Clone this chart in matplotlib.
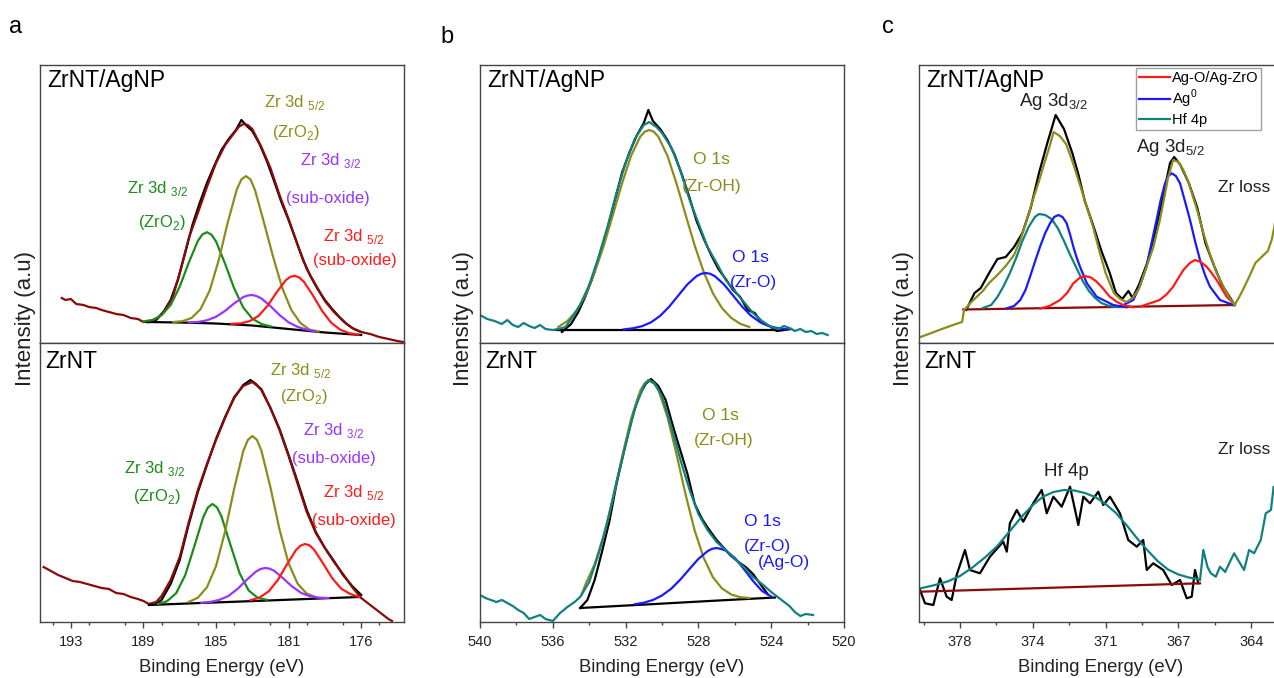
import matplotlib.pyplot as plt
from matplotlib.ticker import FixedLocator, MultipleLocator

plt.rcParams['font.family'] = ['Liberation Sans', 'DejaVu Sans']
plt.rcParams['mathtext.fontset'] = 'custom'
plt.rcParams['mathtext.rm'] = 'Liberation Sans'

OLIVE = '#8c8c1a'
GREEN = '#1a8c1a'
PURPLE = '#9933ff'
RED = '#ff1a1a'
DRED = '#8b0a0a'
TEAL = '#108080'
BLUE = '#1a1aff'
FRAME = '#444444'

# ---------------- panel a : Zr 3d ----------------
# ZrNT/AgNP
a_top_spec_x = [193.5, 193.3, 193.0, 192.7, 192.3, 192.0, 191.6, 191.3, 190.9, 190.5, 190.1, 189.7, 189.3, 189.0,
                188.6, 188.2, 187.8, 187.4, 187.0, 186.5, 186.0, 185.5, 185.0, 184.5, 184.0, 183.75, 183.5, 183.25,
                183.0, 182.5, 182.0, 181.5, 181.0, 180.5, 180.0, 179.5, 179.0, 178.5, 178.0, 177.5, 177.0, 176.5,
                176.0, 175.5, 175.0, 174.7]
a_top_spec_y = [45, 43, 44, 39, 38, 36, 35, 33, 31, 29, 28, 25, 24, 21,
                21, 25, 33, 45, 70, 105, 130, 156, 180, 198, 210, 216, 219, 218,
                214, 196, 175, 148, 124, 98, 74, 58, 42, 31, 22, 15, 11, 9,
                6, 4, 2, 1]
a_top_raw_x = [188.7, 188.3, 187.9, 187.5, 187.1, 186.7, 186.3, 185.9, 185.5, 185.1, 184.7, 184.3, 183.9, 183.6,
               183.3, 183.0, 182.6, 182.2, 181.8, 181.4, 181.0, 180.6, 180.2, 179.8, 179.4, 179.0, 178.6, 178.2,
               177.8, 177.4, 177.0]
a_top_raw_y = [21, 23, 31, 43, 63, 90, 118, 140, 160, 177, 193, 204, 213, 223,
               217, 212, 199, 182, 162, 141, 123, 103, 83, 67, 54, 43, 34, 26,
               19, 14, 11]
a_top_bg_x = [188.8, 187.0, 185.0, 183.0, 181.0, 179.0, 177.0]
a_top_bg_y = [21, 20.5, 19.5, 17.5, 14, 10.5, 8]
a_top_green_x = [189.0, 188.5, 188.0, 187.5, 187.0, 186.5, 186.0, 185.75, 185.5, 185.25, 185.0, 184.5, 184.0, 183.5,
                 183.0, 182.5, 182.0]
a_top_green_y = [21.6, 23.1, 27.7, 38.0, 56.4, 80.4, 102.1, 108.6, 110.8, 108.3, 101.6, 79.3, 54.6, 35.5,
                 24.4, 19.0, 16.6]
a_top_olive_x = [187.35, 186.85, 186.35, 185.85, 185.35, 184.85, 184.35, 183.85, 183.6, 183.35, 183.1, 182.85,
                 182.35, 181.85, 181.35, 180.85, 180.35, 179.85, 179.35]
a_top_olive_y = [21.0, 21.8, 25.0, 33.9, 52.4, 82.8, 120.9, 153.8, 163.6, 166.9, 163.6, 152.9,
                 120.0, 86.0, 55.0, 33.0, 20.0, 13.4, 11.5]
a_top_purple_x = [186.5, 186.0, 185.5, 185.0, 184.5, 184.0, 183.5, 183.25, 183.0, 182.75, 182.5, 182.0, 181.5,
                  181.0, 180.5, 180.0, 179.5]
a_top_purple_y = [20.5, 21.0, 22.7, 26.2, 32.1, 39.6, 45.9, 47.5, 48.0, 46.8, 44.6, 36.9, 28.0,
                  20.7, 16.1, 13.3, 11.7]
a_top_red_x = [184.15, 183.65, 183.15, 182.65, 182.15, 181.65, 181.15, 180.9, 180.65, 180.4, 180.15, 179.65,
               179.15, 178.65, 178.15, 177.65, 177.15]
a_top_red_y = [19.2, 19.6, 21.8, 27.2, 37.4, 50.9, 62.9, 66.2, 67.2, 65.4, 61.1, 47.3,
               32.0, 20.2, 13.2, 9.8, 8.4]

# ZrNT
a_bot_spec_x = [194.5, 194.1, 193.7, 193.3, 192.9, 192.5, 192.1, 191.7, 191.3, 190.9, 190.5, 190.1, 189.7, 189.3,
                189.0, 188.7, 188.3, 188.0, 187.5, 187.0, 186.5, 186.0, 185.5, 185.0, 184.5, 184.0, 183.5, 183.0,
                182.5, 182.0, 181.5, 181.0, 180.5, 180.0, 179.5, 179.0, 178.5, 178.0, 177.5, 177.0, 176.5, 176.0,
                175.5, 175.3]
a_bot_spec_y = [55, 51, 47, 44, 41, 40, 38, 36, 34, 33, 29, 28, 25, 23,
                21, 18, 20, 26, 42, 65, 100, 132, 158, 182, 204, 225, 236, 240,
                233, 214, 192, 166, 138, 110, 89, 74, 60, 48, 35, 24, 17, 10,
                3, 1]
a_bot_raw_x = [188.3, 188.0, 187.5, 187.0, 186.5, 186.0, 185.5, 185.0, 184.5, 184.0, 183.5, 183.1, 182.8, 182.5,
               182.0, 181.5, 181.0, 180.5, 180.0, 179.5, 179.0, 178.5, 178.0, 177.5, 177.0]
a_bot_raw_y = [18, 22, 38, 62, 98, 130, 157, 183, 205, 224, 237, 242, 238, 232,
               214, 193, 167, 140, 112, 90, 74, 61, 47, 36, 27]
a_bot_bg_x = [188.7, 186.0, 183.0, 180.0, 177.1]
a_bot_bg_y = [17, 18.9, 20.9, 23.0, 25.0]
a_bot_green_x = [188.2, 187.7, 187.2, 186.7, 186.2, 185.7, 185.45, 185.2, 184.95, 184.7, 184.2, 183.7, 183.2,
                 182.7, 182.2]
a_bot_green_y = [18.0, 20.8, 28.7, 46.7, 75.4, 105.0, 114.4, 118.0, 114.8, 105.6, 76.8, 48.8, 31.5,
                 24.2, 22.2]
a_bot_olive_x = [186.5, 186.0, 185.5, 185.0, 184.5, 184.0, 183.5, 183.25, 183.0, 182.75, 182.5, 182.0, 181.5,
                 181.0, 180.5, 180.0, 179.5]
a_bot_olive_y = [20.1, 24.3, 34.7, 55.8, 90.4, 133.2, 170.8, 181.9, 186.0, 182.3, 171.5, 134.6, 92.5,
                 58.6, 38.2, 28.4, 24.9]
a_bot_purple_x = [185.8, 185.3, 184.8, 184.3, 183.8, 183.3, 182.8, 182.55, 182.3, 182.05, 181.8, 181.3, 180.8,
                  180.3, 179.8, 179.3, 178.8]
a_bot_purple_y = [19.2, 20.1, 22.2, 26.2, 33.3, 42.3, 50.4, 53.0, 54.0, 53.4, 51.2, 43.7, 35.4,
                  29.0, 25.6, 24.3, 24.0]
a_bot_red_x = [183.1, 182.6, 182.1, 181.6, 181.1, 180.6, 180.35, 180.1, 179.85, 179.6, 179.1, 178.6, 178.1,
               177.6, 177.1]
a_bot_red_y = [21.8, 24.5, 30.6, 41.8, 57.3, 71.8, 76.3, 78.0, 76.7, 72.5, 58.6, 43.9, 33.3,
               28.0, 25.0]

a_ticks = [193, 189, 185, 181, 177]
a_ticklabels = ['193', '189', '185', '181', '176']

# ---------------- panel b : O 1s ----------------
b_top_spec_x = [540.0, 539.6, 539.2, 538.8, 538.5, 538.2, 537.9, 537.6, 537.3, 537.0, 536.7, 536.4, 536.0, 535.7,
                535.3, 535.0, 534.5, 534.0, 533.5, 533.0, 532.5, 532.0, 531.5, 531.0, 530.7, 530.3, 530.0, 529.5,
                529.0, 528.5, 528.0, 527.5, 527.0, 526.5, 526.0, 525.5, 525.0, 524.5, 524.0, 523.6, 523.3, 523.0,
                522.7, 522.4, 522.1, 521.8, 521.5, 521.2, 520.9]
b_top_spec_y = [28, 24, 22, 19, 23, 18, 16, 20, 17, 15, 18, 14, 13, 14,
                16, 24, 38, 58, 85, 116, 150, 180, 204, 218, 221, 216, 210, 196,
                173, 144, 120, 96, 80, 63, 52, 41, 30, 22, 16, 14, 17, 15,
                12, 14, 11, 12, 9, 10, 8]
b_top_raw_x = [535.5, 535.0, 534.6, 534.2, 533.8, 533.4, 533.0, 532.6, 532.2, 531.8, 531.4, 531.0, 530.75, 530.5,
               530.1, 529.7, 529.3, 528.9, 528.5, 528.1, 527.7, 527.3, 526.9, 526.5, 526.1, 525.7, 525.3, 524.9,
               524.5, 524.1, 523.7, 523.3, 522.9]
b_top_raw_y = [11, 19, 31, 47, 66, 90, 113, 142, 170, 190, 207, 220, 233, 222,
               214, 203, 188, 168, 146, 122, 104, 88, 74, 64, 53, 46, 33, 30,
               20, 17, 12, 13, 14]
b_top_bg_x = [535.8, 523.4]
b_top_bg_y = [13, 13]
b_top_olive_x = [535.7, 535.2, 534.7, 534.2, 533.7, 533.2, 532.7, 532.2, 531.7, 531.2, 530.95, 530.7, 530.45,
                 530.2, 529.7, 529.2, 528.7, 528.2, 527.7, 527.2, 526.7, 526.2, 525.7, 525.2]
b_top_olive_y = [16.0, 22.0, 32.0, 48.0, 70.6, 97.2, 128.0, 159.4, 187.2, 206.2, 211.3, 213.0, 211.3,
                 206.2, 187.2, 159.4, 128.0, 97.2, 70.6, 49.6, 34.8, 25.1, 19.2, 16.0]
b_top_blue_x = [532.1, 531.6, 531.1, 530.6, 530.1, 529.6, 529.1, 528.6, 528.1, 527.85, 527.6, 527.35, 527.1,
                526.6, 526.1, 525.6, 525.1, 524.6, 524.1, 523.6, 523.1]
b_top_blue_y = [13.6, 14.7, 16.8, 20.7, 27.2, 36.4, 47.6, 58.7, 66.9, 69.2, 70.0, 69.2, 66.9,
                58.7, 47.6, 36.4, 27.2, 20.7, 16.8, 14.7, 13.6]

b_bot_spec_x = [540.0, 539.7, 539.4, 539.1, 538.8, 538.5, 538.2, 537.9, 537.6, 537.3, 537.0, 536.7, 536.4, 536.0,
                535.6, 535.2, 534.8, 534.5, 534.0, 533.5, 533.0, 532.5, 532.0, 531.5, 531.0, 530.75, 530.4, 530.0,
                529.5, 529.0, 528.5, 528.0, 527.5, 527.0, 526.5, 526.0, 525.5, 525.0, 524.5, 524.0, 523.5, 523.0,
                522.7, 522.4, 522.1, 521.7]
b_bot_spec_y = [27, 24, 22, 20, 22, 19, 16, 12, 9, 3, 5, 7, 3, 1,
                9, 15, 20, 25, 40, 67, 100, 140, 177, 213, 236, 242, 238, 226,
                196, 163, 133, 108, 92, 80, 72, 63, 55, 45, 38, 30, 23, 16,
                10, 6, 8, 7]
b_bot_raw_x = [534.5, 534.1, 533.7, 533.3, 532.9, 532.5, 532.1, 531.7, 531.3, 530.9, 530.6, 530.2, 529.8, 529.4,
               529.0, 528.6, 528.2, 527.8, 527.4, 527.0, 526.6, 526.2, 525.8, 525.4, 525.0, 524.6, 524.2]
b_bot_raw_y = [14, 22, 42, 70, 100, 138, 170, 200, 225, 238, 243, 236, 222, 196,
               172, 148, 118, 103, 92, 82, 74, 66, 60, 55, 48, 38, 28]
b_bot_bg_x = [534.5, 531.0, 527.0, 523.8]
b_bot_bg_y = [14, 17.4, 21.4, 24.5]
b_bot_olive_x = [534.4, 534.2, 533.7, 533.2, 532.7, 532.2, 531.7, 531.2, 530.95, 530.7, 530.45, 530.2, 529.7,
                 529.2, 528.7, 528.2, 527.7, 527.2, 526.7, 526.2, 525.7, 525.2]
b_bot_olive_y = [28, 37.8, 57.8, 86.3, 123.3, 164.6, 203.2, 231.1, 238.9, 241.7, 239.3, 232.1, 205.1,
                 167.5, 127.2, 91.2, 63.7, 44.7, 33.5, 27.5, 24.8, 24.0]
b_bot_blue_x = [531.5, 531.0, 530.5, 530.0, 529.5, 529.0, 528.5, 528.0, 527.5, 527.25, 527.0, 526.75, 526.5,
                526.0, 525.5, 525.0, 524.5, 524.0]
b_bot_blue_y = [17.7, 19.3, 22.0, 26.5, 33.2, 42.3, 52.8, 63.1, 70.8, 73.2, 74.0, 73.0, 71.5,
                64.0, 53.0, 41.0, 31.0, 25.5]

b_ticks = [540, 536, 532, 528, 524, 520]
b_ticklabels = ['540', '536', '532', '528', '524', '520']

# ---------------- panel c : Ag 3d ----------------
c_top_spec_x = [379.9, 379.5, 379.0, 378.6, 378.2, 377.9, 377.8, 377.5, 377.2, 376.9, 376.6, 376.2, 375.8, 375.4,
                375.1, 374.8, 374.5, 374.2, 374.0, 373.7, 373.5, 373.2, 372.9, 372.6, 372.2, 371.9, 371.6, 371.3,
                371.0, 370.6, 370.3, 370.0, 369.7, 369.4, 369.0, 368.7, 368.4, 368.2, 368.0, 367.75, 367.5, 367.26,
                367.0, 366.6, 366.3, 366.0, 365.7, 365.3, 365.0, 364.8, 364.6, 364.4, 364.1, 363.8, 363.5, 363.2,
                363.0, 362.8, 362.6]
c_top_spec_y = [6, 9, 13, 16, 19, 21, 33, 40, 46, 52, 60, 68, 77, 88,
                103, 122, 143, 162, 176, 196, 211, 207, 199, 182, 156, 136, 116, 92,
                70, 50, 44, 41, 45, 54, 78, 96, 122, 143, 165, 183, 181, 173,
                160, 133, 110, 90, 72, 55, 44, 38, 45, 53, 66, 80, 86, 92,
                104, 126, 150]
c_top_raw_x = [377.7, 377.3, 377.0, 376.6, 376.2, 375.8, 375.4, 375.0, 374.6, 374.2, 373.8, 373.4, 373.0, 372.6,
               372.3, 372.0, 371.6, 371.2, 370.8, 370.5, 370.2, 369.9, 369.7, 369.4, 369.0, 368.6, 368.2, 367.9,
               367.7, 367.4, 367.0, 366.6, 366.2, 365.8, 365.4, 365.0, 364.8]
c_top_raw_y = [33, 50, 55, 70, 84, 86, 96, 110, 135, 170, 200, 228, 214, 190,
               168, 142, 118, 92, 70, 50, 44, 52, 45, 58, 80, 112, 150, 180,
               186, 178, 160, 136, 100, 78, 58, 45, 38]
c_top_bg_x = [377.84, 364.78]
c_top_bg_y = [33.5, 38]
c_top_hf_x = [376.9, 376.5, 376.2, 375.9, 375.6, 375.3, 375.0, 374.7, 374.4, 374.2, 373.9, 373.6, 373.3, 373.0,
              372.7, 372.4, 372.1, 371.8, 371.5, 371.2, 370.9, 370.5, 370.2]
c_top_hf_y = [35, 38, 46, 57, 70, 85, 102, 116, 126, 129, 128, 124, 115, 102,
              88, 75, 62, 52, 45, 40, 37.5, 36, 36]
c_top_ag0a_x = [375.75, 375.4, 375.1, 374.85, 374.63, 374.4, 374.15, 373.9, 373.67, 373.47, 373.27, 373.07, 372.87,
                372.7, 372.55, 372.4, 372.23, 371.9, 371.43, 370.63, 370.0]
c_top_ag0a_y = [34.7, 37, 43, 53, 66.3, 81, 96.3, 110, 119.7, 126, 128, 126, 119.7,
                108, 96.3, 86, 76.3, 59.7, 46.3, 38, 35.7]
c_top_agoa_x = [374.15, 373.7, 373.19, 372.85, 372.55, 372.25, 371.99, 371.7, 371.43, 371.1, 370.8, 370.45, 370.15,
                369.67]
c_top_agoa_y = [34.5, 37, 43, 50, 59.7, 65, 67, 65.5, 61.3, 54, 46.3, 41, 38, 35.7]
c_top_ag0b_x = [370.3, 369.67, 369.35, 369.03, 368.8, 368.55, 368.35, 368.14, 367.98, 367.82, 367.62, 367.42, 367.2,
                366.94, 366.7, 366.46, 366.2, 365.98, 365.5, 364.86]
c_top_ag0b_y = [36.3, 43, 57, 76.3, 99, 123, 143, 159.7, 167, 169.7, 167, 159.7, 143,
                123, 102, 83, 67, 56.3, 43, 38]
c_top_agob_x = [369.35, 368.4, 368.05, 367.75, 367.5, 367.26, 366.95, 366.7, 366.42, 366.14, 365.9, 365.66, 365.4,
                365.18, 364.78]
c_top_agob_y = [36.3, 43, 49, 56.3, 65, 73, 80, 83, 81, 76.3, 70, 63, 54, 46.3, 38]

c_bot_raw_x = [379.92, 379.68, 379.28, 378.96, 378.64, 378.4, 378.16, 377.76, 377.52, 377.04, 376.56, 375.92, 375.75,
               375.6, 375.27, 374.96, 374.48, 374.07, 373.83, 373.51, 373.11, 372.71, 372.31, 372.07, 371.75, 371.35,
               371.11, 370.79, 370.31, 369.91, 369.5, 369.19, 369.02, 368.71, 368.23, 367.82, 367.42, 367.1, 366.86,
               366.7, 366.54]
c_bot_raw_y = [32, 18.7, 17, 43.7, 25.3, 22, 47, 72, 52, 48.7, 65.3, 80.3, 70.3,
               98.7, 112, 100.3, 118.7, 132, 108.7, 125.3, 115.3, 135.3, 97, 125.3, 118.7, 130.3,
               117, 125.3, 108.7, 82, 75.3, 82, 52, 58.7, 52, 37, 42, 23.7, 25.3,
               52, 38.7]
c_bot_fit_x = [379.9, 379.3, 378.6, 378.0, 377.4, 376.8, 376.2, 375.6, 375.0, 374.5, 374.0, 373.5, 373.0, 372.5,
               372.0, 371.5, 371.0, 370.5, 370.0, 369.5, 369.0, 368.5, 368.0, 367.5, 367.0, 366.5]
c_bot_fit_y = [33.7, 36.5, 40.5, 46, 54.5, 64.5, 76, 91, 106, 117, 125.5, 130, 132, 131.5,
               129, 125, 118, 109, 97, 84, 72, 61, 52.5, 47.5, 44.5, 42.7]
c_bot_bg_x = [379.92, 366.46]
c_bot_bg_y = [30.3, 38.7]
c_bot_loss_x = [366.46, 366.3, 366.1, 365.94, 365.7, 365.5, 365.25, 364.98, 364.82, 364.58, 364.34, 364.1, 363.86,
                363.54, 363.3, 363.05, 362.92, 362.7]
c_bot_loss_y = [42, 72, 55, 48.7, 45.3, 55.3, 50, 62, 68.7, 60.3, 52, 72, 68.7,
                82, 108.7, 112, 135.3, 125.3]

c_ticks = [378, 374.5, 371, 367.5, 364]
c_ticklabels = ['378', '374', '371', '367', '364']

fig = plt.figure(figsize=(12.74, 6.78), dpi=100)

W, H = 1274.0, 678.0
cols = [40, 480, 919]
xlims = [(194.7, 174.64), (540, 520), (379.97, 362.47)]


def make_pair(left, xlim, ticks, labels, minor):
    top = fig.add_axes([left / W, 1 - 343 / H, 364 / W, 278 / H])
    bot = fig.add_axes([left / W, 1 - 622 / H, 364 / W, 279 / H])
    for ax in (top, bot):
        ax.set_xlim(*xlim)
        ax.set_yticks([])
        for s in ax.spines.values():
            s.set_color(FRAME)
            s.set_linewidth(1.0)
    top.set_ylim(0, 278)
    bot.set_ylim(0, 279)
    top.tick_params(axis='x', which='both', bottom=False, labelbottom=False)
    bot.xaxis.set_major_locator(FixedLocator(ticks))
    bot.set_xticklabels(labels)
    bot.xaxis.set_minor_locator(MultipleLocator(minor))
    bot.tick_params(axis='x', which='major', direction='out', length=4, width=1, color=FRAME,
                    labelsize=10.5, pad=5, labelcolor='#222222')
    bot.tick_params(axis='x', which='minor', direction='out', length=2.5, width=1, color=FRAME)
    top.text(0.019, 0.945, 'ZrNT/AgNP', transform=top.transAxes, fontsize=16.5, va='center')
    bot.text(0.014, 0.935, 'ZrNT', transform=bot.transAxes, fontsize=16.5, va='center')
    fig.text((left + 182) / W, 1 - 668 / H, 'Binding Energy (eV)', fontsize=13.3,
             ha='center', va='center', color='#222222')
    return top, bot


lw = 1.6
axa1, axa2 = make_pair(cols[0], xlims[0], a_ticks, a_ticklabels, 2)
axb1, axb2 = make_pair(cols[1], xlims[1], b_ticks, b_ticklabels, 2)
axc1, axc2 = make_pair(cols[2], xlims[2], c_ticks, c_ticklabels, 1.75)

# panel a
for ax, d in ((axa1, 'top'), (axa2, 'bot')):
    g = globals()
    ax.plot(g['a_%s_raw_x' % d], g['a_%s_raw_y' % d], color='black', lw=lw)
    ax.plot(g['a_%s_spec_x' % d], g['a_%s_spec_y' % d], color=DRED, lw=lw)
    ax.plot(g['a_%s_bg_x' % d], g['a_%s_bg_y' % d], color='black', lw=lw)
    ax.plot(g['a_%s_green_x' % d], g['a_%s_green_y' % d], color=GREEN, lw=lw)
    ax.plot(g['a_%s_olive_x' % d], g['a_%s_olive_y' % d], color=OLIVE, lw=lw)
    ax.plot(g['a_%s_purple_x' % d], g['a_%s_purple_y' % d], color=PURPLE, lw=lw)
    ax.plot(g['a_%s_red_x' % d], g['a_%s_red_y' % d], color=RED, lw=lw)

fs = 12
axa1.text(180.69, 240, r'Zr 3d $_{\mathregular{5/2}}$', color=OLIVE, fontsize=fs, ha='center', va='center')
axa1.text(180.58, 211, r'(ZrO$_{\mathregular{2}}$)', color=OLIVE, fontsize=fs, ha='center', va='center')
axa1.text(178.71, 183, r'Zr 3d $_{\mathregular{3/2}}$', color=PURPLE, fontsize=fs, ha='center', va='center')
axa1.text(178.85, 145, '(sub-oxide)', color=PURPLE, fontsize=fs, ha='center', va='center')
axa1.text(188.22, 155, r'Zr 3d $_{\mathregular{3/2}}$', color=GREEN, fontsize=fs, ha='center', va='center')
axa1.text(188.0, 120, r'(ZrO$_{\mathregular{2}}$)', color=GREEN, fontsize=fs, ha='center', va='center')
axa1.text(177.4, 106, r'Zr 3d $_{\mathregular{5/2}}$', color=RED, fontsize=fs, ha='center', va='center')
axa1.text(177.34, 83, '(sub-oxide)', color=RED, fontsize=fs, ha='center', va='center')

axa2.text(180.36, 252, r'Zr 3d $_{\mathregular{5/2}}$', color=OLIVE, fontsize=fs, ha='center', va='center')
axa2.text(180.14, 225, r'(ZrO$_{\mathregular{2}}$)', color=OLIVE, fontsize=fs, ha='center', va='center')
axa2.text(178.52, 192, r'Zr 3d $_{\mathregular{3/2}}$', color=PURPLE, fontsize=fs, ha='center', va='center')
axa2.text(178.49, 164, '(sub-oxide)', color=PURPLE, fontsize=fs, ha='center', va='center')
axa2.text(188.41, 154, r'Zr 3d $_{\mathregular{3/2}}$', color=GREEN, fontsize=fs, ha='center', va='center')
axa2.text(188.25, 125, r'(ZrO$_{\mathregular{2}}$)', color=GREEN, fontsize=fs, ha='center', va='center')
axa2.text(177.4, 129, r'Zr 3d $_{\mathregular{5/2}}$', color=RED, fontsize=fs, ha='center', va='center')
axa2.text(177.4, 102, '(sub-oxide)', color=RED, fontsize=fs, ha='center', va='center')

# panel b
for ax, d in ((axb1, 'top'), (axb2, 'bot')):
    g = globals()
    ax.plot(g['b_%s_raw_x' % d], g['b_%s_raw_y' % d], color='black', lw=lw)
    ax.plot(g['b_%s_bg_x' % d], g['b_%s_bg_y' % d], color='black', lw=lw)
    ax.plot(g['b_%s_olive_x' % d], g['b_%s_olive_y' % d], color=OLIVE, lw=lw)
    ax.plot(g['b_%s_blue_x' % d], g['b_%s_blue_y' % d], color=BLUE, lw=lw)
    ax.plot(g['b_%s_spec_x' % d], g['b_%s_spec_y' % d], color=TEAL, lw=lw)

fb = 12.5
axb1.text(527.31, 183, 'O 1s', color=OLIVE, fontsize=fb, ha='center', va='center')
axb1.text(527.25, 156, '(Zr-OH)', color=OLIVE, fontsize=fb, ha='center', va='center')
axb1.text(525.16, 86, 'O 1s', color=BLUE, fontsize=fb, ha='center', va='center')
axb1.text(524.97, 61, '(Zr-O)', color=BLUE, fontsize=fb, ha='center', va='center')
axb2.text(526.81, 207, 'O 1s', color=OLIVE, fontsize=fb, ha='center', va='center')
axb2.text(526.59, 182, '(Zr-OH)', color=OLIVE, fontsize=fb, ha='center', va='center')
axb2.text(524.5, 100, 'O 1s', color=BLUE, fontsize=fb, ha='center', va='center')
axb2.text(524.23, 75, '(Zr-O)', color=BLUE, fontsize=fb, ha='center', va='center')
axb2.text(523.3, 59, '(Ag-O)', color=BLUE, fontsize=fb, ha='center', va='center')

# panel c
fc = 13.5
axc1.plot(c_top_raw_x, c_top_raw_y, color='black', lw=lw)
axc1.plot(c_top_bg_x, c_top_bg_y, color=DRED, lw=lw)
l_hf, = axc1.plot(c_top_hf_x, c_top_hf_y, color=TEAL, lw=lw)
l_ag0, = axc1.plot(c_top_ag0a_x, c_top_ag0a_y, color=BLUE, lw=lw)
axc1.plot(c_top_ag0b_x, c_top_ag0b_y, color=BLUE, lw=lw)
l_ago, = axc1.plot(c_top_agoa_x, c_top_agoa_y, color=RED, lw=lw)
axc1.plot(c_top_agob_x, c_top_agob_y, color=RED, lw=lw)
axc1.plot(c_top_spec_x, c_top_spec_y, color=OLIVE, lw=lw)
axc1.text(373.53, 241, r'Ag 3d$_{\mathregular{3/2}}$', fontsize=fc, ha='center', va='center', color='#222222')
axc1.text(367.9, 196, r'Ag 3d$_{\mathregular{5/2}}$', fontsize=fc, ha='center', va='center', color='#222222')
axc1.text(365.6, 156, 'Zr loss', fontsize=12.5, ha='left', va='center', color='#222222')
leg = axc1.legend([l_ago, l_ag0, l_hf], ['Ag-O/Ag-ZrO', r'Ag$^{\mathregular{0}}$', 'Hf 4p'],
                  loc='upper left', bbox_to_anchor=(0.597, 0.99), fontsize=10.5, frameon=True,
                  fancybox=False, handlelength=2.1, handletextpad=0.15, labelspacing=0.2,
                  borderpad=0.2, borderaxespad=0)
leg.get_frame().set_edgecolor('#888888')
leg.get_frame().set_linewidth(1.0)

axc2.plot(c_bot_raw_x, c_bot_raw_y, color='black', lw=lw)
axc2.plot(c_bot_bg_x, c_bot_bg_y, color=DRED, lw=lw)
axc2.plot(c_bot_fit_x, c_bot_fit_y, color=TEAL, lw=lw)
axc2.plot(c_bot_loss_x, c_bot_loss_y, color=TEAL, lw=lw)
axc2.text(372.9, 150, 'Hf 4p', fontsize=fc, ha='center', va='center', color='#222222')
axc2.text(365.6, 172, 'Zr loss', fontsize=12.5, ha='left', va='center', color='#222222')

# axis labels and panel letters
for xc in (25, 464, 903):
    fig.text(xc / W, 1 - 318 / H, 'Intensity (a.u)', rotation=90, fontsize=16,
             ha='center', va='center', color='#222222')
fig.text(16 / W, 1 - 33 / H, 'a', fontsize=17, ha='center', va='baseline')
fig.text(447 / W, 1 - 43 / H, 'b', fontsize=17, ha='center', va='baseline')
fig.text(888 / W, 1 - 33 / H, 'c', fontsize=17, ha='center', va='baseline')

fig.savefig('out.png', dpi=100)
